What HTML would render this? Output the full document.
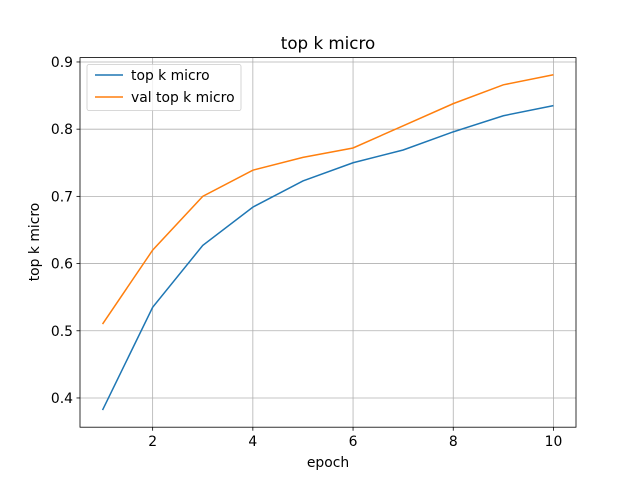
<!DOCTYPE html>
<html><head><meta charset="utf-8"><style>
html,body{margin:0;padding:0;background:#fff;}
svg{display:block;font-family:"DejaVu Sans","Liberation Sans",sans-serif;}
</style></head><body>
<svg id="chart" width="640" height="480"></svg>
<script>
const epochs=[1,2,3,4,5,6,7,8,9,10];
const trainValues=[0.382,0.535,0.627,0.684,0.723,0.750,0.769,0.796,0.820,0.835];
const valValues=[0.510,0.620,0.700,0.739,0.758,0.772,0.805,0.838,0.866,0.881];
const xTicks=[2,4,6,8,10];
const yTicks=[0.4,0.5,0.6,0.7,0.8,0.9];
const L=80,R=576,T=57.6,B=427.2;
const xMin=0.55,xMax=10.45,yMin=0.3565,yMax=0.9065;
const xs=v=>L+(v-xMin)/(xMax-xMin)*(R-L);
const ys=v=>B-(v-yMin)/(yMax-yMin)*(B-T);
const svg=document.getElementById('chart');
const NS='http://www.w3.org/2000/svg';
function mk(tag,attrs,parent){const e=document.createElementNS(NS,tag);for(const k in attrs)e.setAttribute(k,attrs[k]);(parent||svg).appendChild(e);return e;}
xTicks.forEach(t=>{
  const g=mk('line',{x1:xs(t),x2:xs(t),y1:T,y2:B,stroke:'#b0b0b0','stroke-width':0.8});
  
  
  mk('line',{x1:xs(t),x2:xs(t),y1:B,y2:B+3.5,stroke:'#000','stroke-width':0.8});
  const tx=mk('text',{x:xs(t),y:B+19,'text-anchor':'middle','font-size':13.9,fill:'#000'});
  tx.textContent=t;
  
  
});
yTicks.forEach(t=>{
  const g=mk('line',{x1:L,x2:R,y1:ys(t),y2:ys(t),stroke:'#b0b0b0','stroke-width':0.8});
  
  
  mk('line',{x1:L-3.5,x2:L,y1:ys(t),y2:ys(t),stroke:'#000','stroke-width':0.8});
  const tx=mk('text',{x:L-7,y:ys(t)+5,'text-anchor':'end','font-size':13.9,fill:'#000'});
  tx.textContent=t.toFixed(1);
  
  
});
function line(vals,color,name){
  const p=mk('polyline',{points:epochs.map((e,i)=>xs(e)+','+ys(vals[i])).join(' '),fill:'none',stroke:color,'stroke-width':1.5});
  
  
}
line(trainValues,'#1f77b4','top-k-micro-line');
line(valValues,'#ff7f0e','val-top-k-micro-line');
const fr=mk('rect',{x:L,y:T,width:R-L,height:B-T,fill:'none',stroke:'#000','stroke-width':0.8});


</script>
<svg width="640" height="480" style="position:absolute;left:0;top:0;font-family:'DejaVu Sans','Liberation Sans',sans-serif;">
  <text x="328" y="49" text-anchor="middle" font-size="16.7">top k micro</text>
  <text x="328" y="467" text-anchor="middle" font-size="13.9">epoch</text>
  <text transform="translate(39,242) rotate(-90)" text-anchor="middle" font-size="13.9">top k micro</text>
  <g>
    <rect x="87" y="64.5" width="154" height="46" rx="2" fill="#fff" fill-opacity="0.8" stroke="#ccc" stroke-width="0.8"/>
    <line x1="95" x2="123" y1="75" y2="75" stroke="#1f77b4" stroke-width="1.5"/>
    <text x="131" y="80" font-size="13.9">top k micro</text>
    <line x1="95" x2="123" y1="97" y2="97" stroke="#ff7f0e" stroke-width="1.5"/>
    <text x="131" y="102" font-size="13.9">val top k micro</text>
  </g>
</svg>
</body></html>
